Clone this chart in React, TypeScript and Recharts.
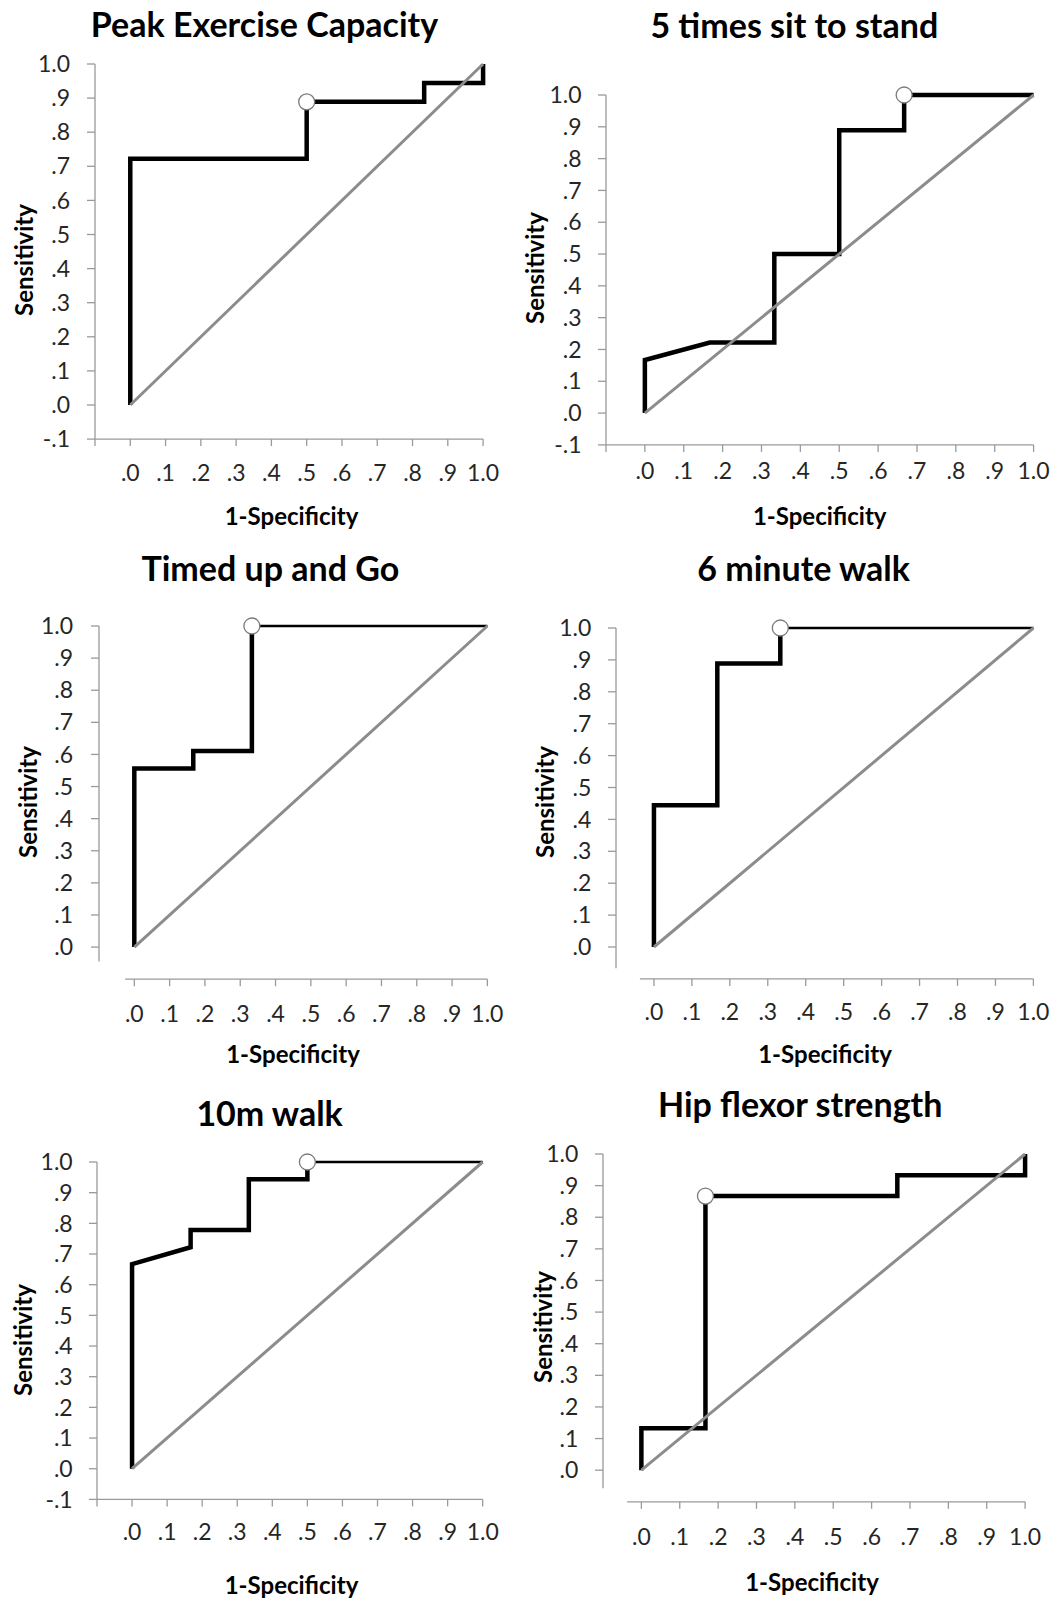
import { LineChart, Line, XAxis, YAxis, ReferenceLine } from "recharts";

// tick values shared by every panel
const framedTicks = [-0.1, 0, 0.1, 0.2, 0.3, 0.4, 0.5, 0.6, 0.7, 0.8, 0.9, 1.0];
const unitTicks = [0, 0.1, 0.2, 0.3, 0.4, 0.5, 0.6, 0.7, 0.8, 0.9, 1.0];

// reference (chance) line
const chanceFpr = [0, 1];
const chanceTpr = [0, 1];

// Peak Exercise Capacity
const peakFpr = [0, 0, 0.5, 0.5, 0.833, 0.833, 1, 1];
const peakTpr = [0, 0.722, 0.722, 0.889, 0.889, 0.944, 0.944, 1];
const peakCut = { x: 0.5, y: 0.889 };

// 5 times sit to stand
const stsFpr = [0, 0, 0.167, 0.333, 0.333, 0.5, 0.5, 0.667, 0.667, 1];
const stsTpr = [0, 0.167, 0.222, 0.222, 0.5, 0.5, 0.889, 0.889, 1, 1];
const stsCut = { x: 0.667, y: 1 };

// Timed up and Go
const tugFpr = [0, 0, 0.167, 0.167, 0.333, 0.333];
const tugTpr = [0, 0.556, 0.556, 0.611, 0.611, 1];
const tugTailFpr = [0.333, 1];
const tugTailTpr = [1, 1];
const tugCut = { x: 0.333, y: 1 };

// 6 minute walk
const smwFpr = [0, 0, 0.167, 0.167, 0.333, 0.333];
const smwTpr = [0, 0.444, 0.444, 0.889, 0.889, 1];
const smwTailFpr = [0.333, 1];
const smwTailTpr = [1, 1];
const smwCut = { x: 0.333, y: 1 };

// 10m walk
const tenFpr = [0, 0, 0.167, 0.167, 0.333, 0.333, 0.5, 0.5];
const tenTpr = [0, 0.667, 0.722, 0.778, 0.778, 0.944, 0.944, 1];
const tenTailFpr = [0.5, 1];
const tenTailTpr = [1, 1];
const tenCut = { x: 0.5, y: 1 };

// Hip flexor strength
const hipFpr = [0, 0, 0.167, 0.167, 0.667, 0.667, 1, 1];
const hipTpr = [0, 0.133, 0.133, 0.867, 0.867, 0.933, 0.933, 1];
const hipCut = { x: 0.167, y: 0.867 };

const pts = (xs: number[], ys: number[]) => xs.map((x, i) => ({ x, y: ys[i] }));

const panels = [
  { title: "Peak Exercise Capacity", curve: pts(peakFpr, peakTpr), tail: [], cut: peakCut, framed: true },
  { title: "5 times sit to stand", curve: pts(stsFpr, stsTpr), tail: [], cut: stsCut, framed: true },
  { title: "Timed up and Go", curve: pts(tugFpr, tugTpr), tail: pts(tugTailFpr, tugTailTpr), cut: tugCut, framed: false },
  { title: "6 minute walk", curve: pts(smwFpr, smwTpr), tail: pts(smwTailFpr, smwTailTpr), cut: smwCut, framed: false },
  { title: "10m walk", curve: pts(tenFpr, tenTpr), tail: pts(tenTailFpr, tenTailTpr), cut: tenCut, framed: true },
  { title: "Hip flexor strength", curve: pts(hipFpr, hipTpr), tail: [], cut: hipCut, framed: false },
];

// page geometry of each panel (pixels)
const layouts = [
  { l: 94.6, r: 482.7, t: 64.2, b: 439.3, xGap: 19, yGap: 17, title: [264.5, 25.4], xLab: [291.5, 517], yLab: [24, 260], yEnd: -0.1, xStart: -0.1 },
  { l: 606, r: 1033.6, t: 94.6, b: 444.5, xGap: 10.5, yGap: 16.5, title: [794.3, 26], xLab: [819.7, 517], yLab: [535, 268], yEnd: -0.1, xStart: -0.1 },
  { l: 99, r: 487.4, t: 626.3, b: 979.5, xGap: 19, yGap: 18, title: [270.4, 569.7], xLab: [293, 1055], yLab: [28, 802], yEnd: -0.045, xStart: -0.026 },
  { l: 616.2, r: 1033.6, t: 628, b: 978.9, xGap: 18, yGap: 16.7, title: [803.6, 569.7], xLab: [825, 1055], yLab: [545, 802], yEnd: -0.067, xStart: -0.037 },
  { l: 97, r: 482.7, t: 1161.8, b: 1499.2, xGap: 17, yGap: 16.3, title: [269.6, 1114.3], xLab: [291.5, 1586], yLab: [23, 1339.5], yEnd: -0.1, xStart: -0.1 },
  { l: 602.7, r: 1024.8, t: 1153.8, b: 1501.6, xGap: 19.5, yGap: 16.7, title: [800.2, 1105.7], xLab: [812, 1582.7], yLab: [543, 1327], yEnd: -0.057, xStart: -0.037 },
];

const AXIS = "#9a9a9a";
const FONT = "Lato, 'Open Sans', sans-serif";
const TITLE_SIZE = 34;
const LABEL_SIZE = 24;
const tickStyle = { fontSize: 23, fill: "#262626", fontFamily: FONT };

const fmt = (v: number) => v.toFixed(1).replace(/^(-?)0\./, "$1.");
const xFmt = (v: number) => (v < 0 ? "" : fmt(v));

function RocPanel({ p, g }: { p: any; g: any }) {
  const padL = 75;
  const padT = 24;
  const padR = 22;
  const padB = 60;
  const chartLeft = g.l - padL;
  const chartTop = g.t - padT;
  const width = g.r + padR - chartLeft;
  const height = g.b + padB - chartTop;
  const ticks = p.framed ? framedTicks : unitTicks;

  return (
    <>
      <div
        style={{
          position: "absolute",
          left: g.title[0] - 260,
          width: 520,
          top: g.title[1] - 0.6285 * TITLE_SIZE,
          textAlign: "center",
          fontFamily: FONT,
          fontWeight: 700,
          fontSize: TITLE_SIZE,
          lineHeight: `${1.2 * TITLE_SIZE}px`,
          color: "#000",
          whiteSpace: "nowrap",
        }}
      >
        {p.title}
      </div>
      <div
        style={{
          position: "absolute",
          left: g.xLab[0] - 150,
          width: 300,
          top: g.xLab[1] - 0.6285 * LABEL_SIZE,
          textAlign: "center",
          fontFamily: FONT,
          fontWeight: 700,
          fontSize: LABEL_SIZE,
          lineHeight: `${1.2 * LABEL_SIZE}px`,
          color: "#000",
        }}
      >
        1-Specificity
      </div>
      <div
        style={{
          position: "absolute",
          left: g.yLab[0],
          top: g.yLab[1],
          width: 200,
          transform: "translate(-50%, -50%) rotate(-90deg)",
          textAlign: "center",
          fontFamily: FONT,
          fontWeight: 700,
          fontSize: LABEL_SIZE,
          lineHeight: `${1.2 * LABEL_SIZE}px`,
          color: "#000",
        }}
      >
        Sensitivity
      </div>
      <div style={{ position: "absolute", left: chartLeft, top: chartTop }}>
        <LineChart width={width} height={height} margin={{ top: padT, right: padR, bottom: 0, left: 0 }}>
          <XAxis
            type="number"
            dataKey="x"
            domain={[-0.1, 1]}
            ticks={ticks}
            interval={0}
            tickFormatter={xFmt}
            axisLine={p.framed ? { stroke: AXIS, strokeWidth: 1.3 } : false}
            tickLine={{ stroke: AXIS, strokeWidth: 1.3 }}
            tickSize={7}
            tickMargin={g.xGap}
            height={padB}
            tick={tickStyle}
          />
          <YAxis
            type="number"
            dataKey="y"
            domain={[-0.1, 1]}
            ticks={ticks}
            interval={0}
            tickFormatter={fmt}
            axisLine={p.framed ? { stroke: AXIS, strokeWidth: 1.3 } : false}
            tickLine={{ stroke: AXIS, strokeWidth: 1.3 }}
            tickSize={8}
            tickMargin={g.yGap}
            width={padL}
            tick={tickStyle}
          />
          {!p.framed && (
            <ReferenceLine
              segment={[{ x: -0.1, y: g.yEnd }, { x: -0.1, y: 1 }]}
              stroke={AXIS}
              strokeWidth={1.3}
              ifOverflow="visible"
            />
          )}
          {!p.framed && (
            <ReferenceLine
              segment={[{ x: g.xStart, y: -0.1 }, { x: 1, y: -0.1 }]}
              stroke={AXIS}
              strokeWidth={1.3}
              ifOverflow="visible"
            />
          )}
          <Line
            data={p.curve}
            dataKey="y"
            type="linear"
            stroke="#000"
            strokeWidth={4.5}
            strokeLinejoin="miter"
            dot={false}
            activeDot={false}
            isAnimationActive={false}
          />
          {p.tail.length > 0 && (
            <Line
              data={p.tail}
              dataKey="y"
              type="linear"
              stroke="#000"
              strokeWidth={2.5}
              dot={false}
              activeDot={false}
              isAnimationActive={false}
            />
          )}
          <Line
            data={pts(chanceFpr, chanceTpr)}
            dataKey="y"
            type="linear"
            stroke="#8c8c8c"
            strokeWidth={3}
            dot={false}
            activeDot={false}
            isAnimationActive={false}
          />
          <Line
            data={[p.cut]}
            dataKey="y"
            stroke="none"
            dot={{ r: 8, fill: "#fff", stroke: "#7a7a7a", strokeWidth: 1.3 }}
            activeDot={false}
            isAnimationActive={false}
          />
        </LineChart>
      </div>
    </>
  );
}

export default function App() {
  return (
    <div
      style={{
        position: "absolute",
        left: 0,
        top: 0,
        width: 1058,
        height: 1601,
        overflow: "hidden",
        background: "#fff",
      }}
    >
      {panels.map((p, i) => (
        <RocPanel key={p.title} p={p} g={layouts[i]} />
      ))}
    </div>
  );
}
